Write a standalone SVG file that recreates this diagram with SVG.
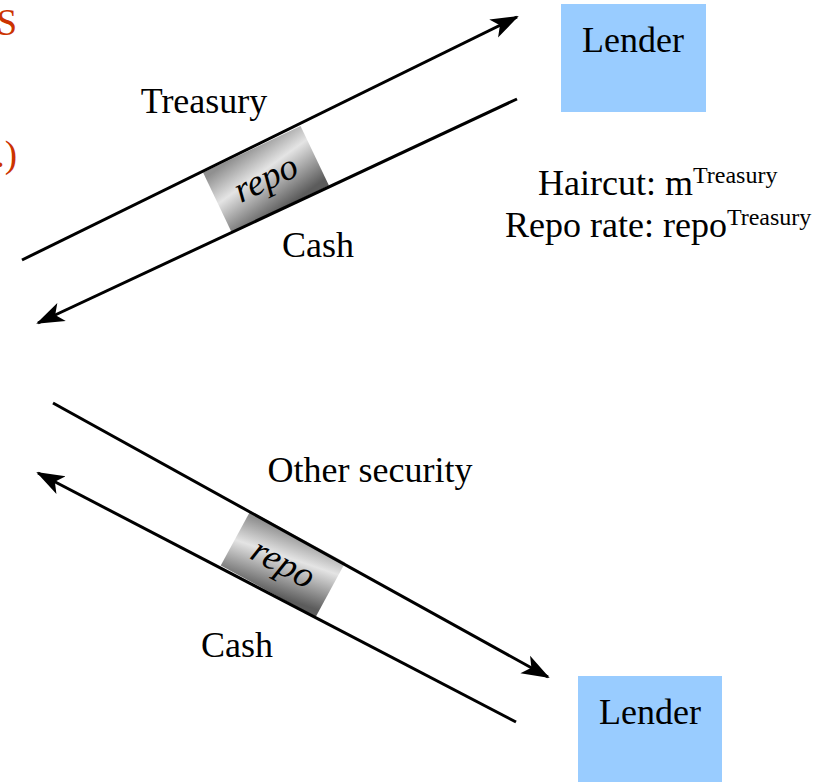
<svg xmlns="http://www.w3.org/2000/svg" width="834" height="782" viewBox="0 0 834 782">
  <defs>
    <style>
      .t { font-family: "Liberation Serif", "Times New Roman", serif; font-size: 36px; fill: #000; }
      .red { font-family: "Liberation Serif", "Times New Roman", serif; font-size: 37px; fill: #cc3300; }
      .rp { font-family: "Liberation Serif", "Times New Roman", serif; font-size: 37px; font-style: italic; fill: #000; }
      .sup { font-size: 24px; }
      .lender { fill: #99ccff; }
      .flow { fill: none; stroke: #000; stroke-width: 3; marker-end: url(#head); }
    </style>
    <marker id="head" markerUnits="userSpaceOnUse" markerWidth="28" markerHeight="22" viewBox="0 0 28 22" refX="26" refY="11" orient="auto">
      <path d="M0,1 L28,11 L0,21 L7,11 Z" fill="#000"/>
    </marker>
    <linearGradient id="repoShade" x1="0.3" y1="0" x2="0.6" y2="1">
      <stop offset="0" stop-color="#909090"/>
      <stop offset="0.4" stop-color="#e4e4e4"/>
      <stop offset="1" stop-color="#5c5c5c"/>
    </linearGradient>
  </defs>

  <!-- partial heading text at left edge -->
  <text class="red" x="17" y="35" text-anchor="end">S</text>
  <text class="red" x="17" y="167" text-anchor="end">.)</text>

  <!-- repo boxes sit between each pair of flows -->
  <g id="repo-top">
    <rect x="-54" y="-33" width="108" height="66" fill="url(#repoShade)" transform="translate(266,179) rotate(-25.5)"/>
    <text class="rp" text-anchor="middle" transform="translate(266,179) rotate(-25.5)" y="11">repo</text>
  </g>
  <g id="repo-bottom">
    <rect x="-54" y="-31" width="108" height="62" fill="url(#repoShade)" transform="translate(283,564) rotate(28.5)"/>
    <text class="rp" text-anchor="middle" transform="translate(283,564) rotate(28.5)" y="11">repo</text>
  </g>

  <g id="connectors">
    <path class="flow" d="M22,260 L517,17"/>
    <path class="flow" d="M517,99 L38,323"/>
    <path class="flow" d="M53,403 L548,677"/>
    <path class="flow" d="M516,722 L38,473"/>
  </g>

  <g id="lender-top">
    <rect class="lender" x="561" y="4" width="145" height="108"/>
    <text class="t" x="633" y="52" text-anchor="middle">Lender</text>
  </g>
  <g id="lender-bottom">
    <rect class="lender" x="578" y="676" width="144" height="110"/>
    <text class="t" x="650" y="724" text-anchor="middle">Lender</text>
  </g>

  <g id="labels">
    <text class="t" x="204" y="113" text-anchor="middle">Treasury</text>
    <text class="t" x="318" y="257" text-anchor="middle">Cash</text>
    <text class="t" x="538" y="195">Haircut: m<tspan class="sup" dy="-12">Treasury</tspan></text>
    <text class="t" x="505" y="237">Repo rate: repo<tspan class="sup" dy="-12">Treasury</tspan></text>
    <text class="t" x="370" y="482" text-anchor="middle">Other security</text>
    <text class="t" x="237" y="657" text-anchor="middle">Cash</text>
  </g>
</svg>
